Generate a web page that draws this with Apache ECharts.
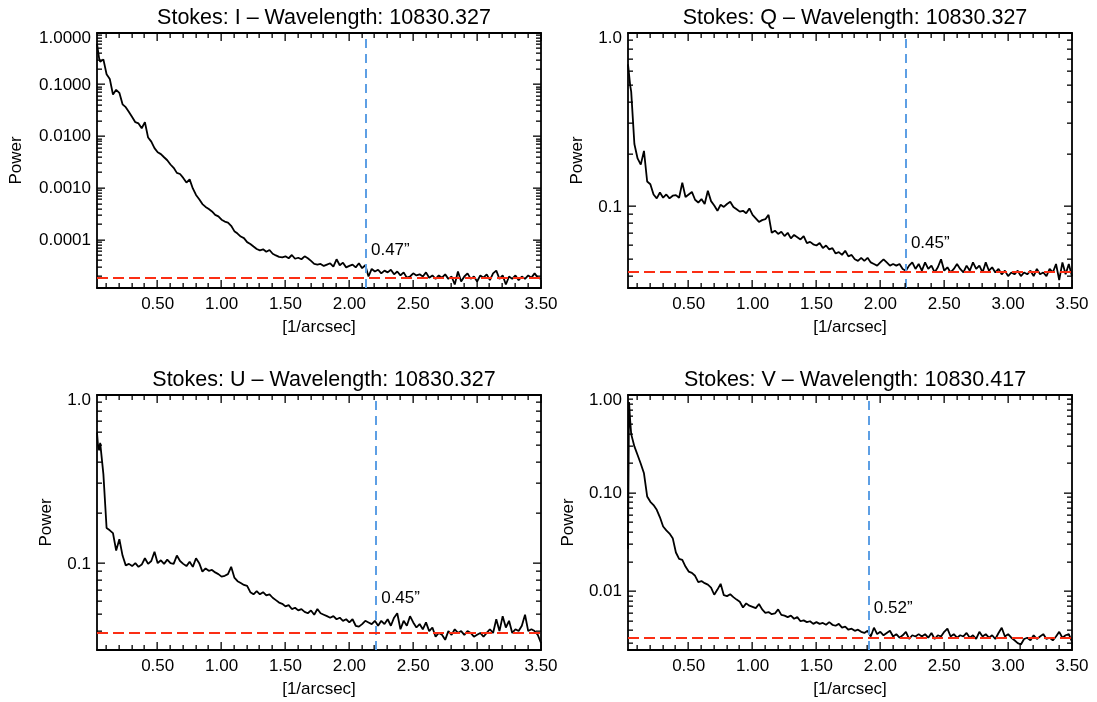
<!DOCTYPE html>
<html>
<head>
<meta charset="utf-8">
<script src="https://cdn.jsdelivr.net/npm/echarts@6/dist/echarts.min.js"></script>
<style>
  html, body { margin: 0; padding: 0; background: #fff; }
  #chart { width: 1097px; height: 702px; }
</style>
</head>
<body>
<div id="chart"></div>
<script>
// ---------- data ----------
const freq = [
  0.025,0.033,0.042,0.050,0.075,0.100,0.125,0.150,0.175,0.200,
  0.225,0.250,0.275,0.300,0.325,0.350,0.375,0.400,0.425,0.450,
  0.475,0.500,0.525,0.550,0.575,0.600,0.625,0.650,0.675,0.700,
  0.725,0.750,0.775,0.800,0.825,0.850,0.875,0.900,0.925,0.950,
  0.975,1.000,1.025,1.050,1.075,1.100,1.125,1.150,1.175,1.200,
  1.225,1.250,1.275,1.300,1.325,1.350,1.375,1.400,1.425,1.450,
  1.475,1.500,1.525,1.550,1.575,1.600,1.625,1.650,1.675,1.700,
  1.725,1.750,1.775,1.800,1.825,1.850,1.875,1.900,1.925,1.950,
  1.975,2.000,2.025,2.050,2.075,2.100,2.125,2.150,2.175,2.200,
  2.225,2.250,2.275,2.300,2.325,2.350,2.375,2.400,2.425,2.450,
  2.475,2.500,2.525,2.550,2.575,2.600,2.625,2.650,2.675,2.700,
  2.725,2.750,2.775,2.800,2.825,2.850,2.875,2.900,2.925,2.950,
  2.975,3.000,3.025,3.050,3.075,3.100,3.125,3.150,3.175,3.200,
  3.225,3.250,3.275,3.300,3.325,3.350,3.375,3.400,3.425,3.450,
  3.475,3.500
];

const powerI = [
  0.62,0.45,0.32,0.28,0.31,0.16,0.13,0.065,0.080,0.070,
  0.042,0.037,0.030,0.024,0.019,0.018,0.0145,0.019,0.0096,0.0080,
  0.0060,0.0050,0.0046,0.0040,0.0035,0.0029,0.0025,0.0020,0.0019,0.0016,
  0.0013,0.0015,0.0010,0.00075,0.00062,0.00050,0.00044,0.00040,0.00036,0.00031,
  0.00029,0.00025,0.00023,0.00022,0.00019,0.00015,0.000135,0.000118,0.00011,0.000092,
  0.000085,0.000076,0.000068,0.000064,0.000067,0.000060,0.000065,0.000055,0.000051,0.000048,
  0.000047,0.000049,0.000045,0.000052,0.000044,0.000046,0.000043,0.000049,0.000045,0.000040,
  0.000035,0.000034,0.000035,0.000032,0.000034,0.000036,0.000031,0.000043,0.000033,0.000037,
  0.000030,0.000032,0.000034,0.000030,0.000036,0.000029,0.000033,0.000020,0.000028,0.000025,
  0.000027,0.000023,0.000026,0.000024,0.000027,0.000022,0.000025,0.000021,0.000024,0.000019,
  0.000020,0.000023,0.000021,0.000022,0.000020,0.000024,0.000019,0.000021,0.000018,0.000021,
  0.000019,0.000022,0.000018,0.000020,0.000014,0.000025,0.000016,0.000020,0.000023,0.000018,
  0.000020,0.000016,0.000021,0.000019,0.000022,0.000017,0.000023,0.000026,0.000018,0.000021,
  0.000014,0.000020,0.000018,0.000021,0.000017,0.000020,0.000018,0.000021,0.000019,0.000023,
  0.000019,0.000018
];

const powerQ = [
  0.66,0.58,0.50,0.46,0.23,0.19,0.175,0.21,0.14,0.135,
  0.118,0.112,0.121,0.113,0.118,0.112,0.116,0.117,0.113,0.138,
  0.114,0.118,0.122,0.110,0.106,0.111,0.104,0.124,0.108,0.102,
  0.095,0.103,0.100,0.104,0.107,0.100,0.097,0.094,0.095,0.092,
  0.098,0.090,0.086,0.082,0.084,0.085,0.090,0.071,0.073,0.070,
  0.072,0.068,0.071,0.066,0.069,0.067,0.065,0.068,0.062,0.063,
  0.061,0.060,0.062,0.058,0.060,0.057,0.058,0.054,0.055,0.053,
  0.056,0.052,0.053,0.050,0.049,0.051,0.049,0.051,0.048,0.047,
  0.046,0.048,0.050,0.048,0.046,0.047,0.046,0.047,0.044,0.043,
  0.046,0.048,0.044,0.047,0.043,0.048,0.044,0.046,0.042,0.045,
  0.050,0.043,0.045,0.042,0.044,0.047,0.044,0.042,0.046,0.043,
  0.048,0.044,0.046,0.042,0.048,0.043,0.045,0.042,0.044,0.041,
  0.043,0.040,0.042,0.041,0.043,0.040,0.042,0.041,0.043,0.040,
  0.044,0.041,0.042,0.040,0.044,0.042,0.047,0.038,0.048,0.041,
  0.047,0.040
];

const powerU = [
  0.60,0.50,0.47,0.52,0.34,0.163,0.158,0.152,0.120,0.140,
  0.112,0.098,0.100,0.097,0.101,0.096,0.099,0.108,0.100,0.104,
  0.118,0.101,0.105,0.100,0.106,0.101,0.100,0.112,0.104,0.100,
  0.097,0.103,0.096,0.108,0.101,0.090,0.094,0.091,0.092,0.089,
  0.087,0.084,0.085,0.087,0.096,0.083,0.079,0.077,0.075,0.074,
  0.068,0.066,0.069,0.066,0.068,0.065,0.066,0.063,0.061,0.059,
  0.058,0.056,0.057,0.054,0.055,0.053,0.054,0.052,0.051,0.053,
  0.050,0.054,0.051,0.050,0.049,0.048,0.049,0.047,0.048,0.046,
  0.047,0.045,0.047,0.043,0.0425,0.044,0.046,0.045,0.044,0.046,
  0.043,0.046,0.044,0.047,0.043,0.048,0.051,0.041,0.046,0.043,
  0.049,0.045,0.042,0.044,0.041,0.045,0.040,0.042,0.037,0.039,
  0.038,0.0355,0.040,0.038,0.041,0.039,0.040,0.038,0.040,0.039,
  0.037,0.038,0.039,0.037,0.039,0.041,0.039,0.047,0.040,0.049,
  0.042,0.046,0.039,0.041,0.040,0.043,0.050,0.040,0.041,0.040,
  0.038,0.034
];

const powerV = [
  0.027,0.85,0.55,0.40,0.30,0.245,0.20,0.16,0.093,0.082,
  0.076,0.068,0.057,0.046,0.042,0.039,0.035,0.025,0.0215,0.021,
  0.018,0.016,0.0155,0.0145,0.0125,0.0128,0.0122,0.0118,0.0110,0.0093,
  0.0105,0.0120,0.0092,0.0090,0.0094,0.0088,0.0083,0.0079,0.0069,0.0076,
  0.0072,0.0070,0.0068,0.0075,0.0066,0.0061,0.0062,0.0059,0.0060,0.0066,
  0.0058,0.0057,0.0055,0.0057,0.0053,0.0055,0.0050,0.0051,0.0049,0.0050,
  0.0047,0.0049,0.0047,0.0048,0.0046,0.0049,0.0046,0.0045,0.0047,0.0043,
  0.0044,0.0041,0.0042,0.0040,0.0041,0.0039,0.0038,0.0040,0.0035,0.0043,
  0.0037,0.0039,0.0036,0.0038,0.0040,0.0035,0.0037,0.0034,0.0036,0.0039,
  0.0033,0.0036,0.0035,0.0037,0.0035,0.0037,0.0034,0.0038,0.0033,0.0036,
  0.0035,0.0039,0.0042,0.0035,0.0037,0.0034,0.0036,0.0035,0.0038,0.0034,
  0.0036,0.0033,0.0039,0.0035,0.0037,0.0034,0.0036,0.0033,0.0038,0.0043,
  0.0035,0.0037,0.0034,0.0032,0.0030,0.0029,0.0033,0.0034,0.0032,0.0036,
  0.0033,0.0035,0.0037,0.0033,0.0034,0.0032,0.0035,0.0039,0.0034,0.0036,
  0.0037,0.0031
];

const panelTitles = [
  'Stokes: I \u2013 Wavelength: 10830.327',
  'Stokes: Q \u2013 Wavelength: 10830.327',
  'Stokes: U \u2013 Wavelength: 10830.327',
  'Stokes: V \u2013 Wavelength: 10830.417'
];
const noiseLevel   = [1.9e-5, 0.0422, 0.0392, 0.0034];
const cutoffFreq   = [2.13, 2.20, 2.21, 1.91];
const cutoffLabel  = ['0.47\u201D', '0.45\u201D', '0.45\u201D', '0.52\u201D'];
const cutoffLabelY = [6.4e-5, 0.0618, 0.0626, 0.00676];
const yMin = [1.2e-5, 0.0342, 0.0309, 0.00255];
const yMax = [1, 1, 1, 1];
const yMajorTicks = [[0.0001, 0.001, 0.01, 0.1, 1], [0.1, 1], [0.1, 1], [0.01, 0.1, 1]];
const yLabelDigits = [4, 1, 1, 2];
const xMajorTicks = [0.5, 1.0, 1.5, 2.0, 2.5, 3.0, 3.5];
const xMin = 0.025, xMax = 3.5;

// ---------- layout / style ----------
const FONT = '"Liberation Sans", Arial, Helvetica, sans-serif';
const BLUE = '#5d9fe4';
const RED = '#fb2e14';
const gridsPx = [
  { left: 97,  top: 33,  width: 444, height: 255 },
  { left: 628, top: 33,  width: 444, height: 255 },
  { left: 97,  top: 395, width: 444, height: 255 },
  { left: 628, top: 395, width: 444, height: 255 }
];
const powerNameGap = [72, 42, 42, 51];
const series = [powerI, powerQ, powerU, powerV];
const MAJOR_LEN = 8, MINOR_LEN = 5;

const xMinorTicks = [];
for (let k = 1; k <= 34; k++) { if (k % 5 !== 0) xMinorTicks.push(k / 10); }
function logMinor(lo, hi) {
  const out = [];
  for (let e = -6; e <= 0; e++) {
    for (let m = 2; m <= 9; m++) {
      const v = parseFloat((m * Math.pow(10, e)).toPrecision(3));
      if (v >= lo && v <= hi) out.push(v);
    }
  }
  return out;
}

const grid = [], xAxis = [], yAxis = [], chartSeries = [], title = [];
const line = { color: '#000', width: 1.8 };
const txt = { fontSize: 17, color: '#000', fontFamily: FONT };

for (let p = 0; p < 4; p++) {
  const g = gridsPx[p];
  grid.push(Object.assign({ containLabel: false }, g));
  title.push({
    text: panelTitles[p], left: g.left + g.width / 2, top: g.top - 31, textAlign: 'center',
    textStyle: { fontSize: 21.5, fontWeight: 'normal', color: '#000', fontFamily: FONT }
  });
  const digits = yLabelDigits[p];
  const topLabel = (1).toFixed(digits);

  const xBase = { type: 'value', gridIndex: p, min: xMin, max: xMax, splitLine: { show: false },
    axisTick: { show: false } };
  xAxis.push(Object.assign({}, xBase, {
    position: 'bottom',
    axisLine: { show: true, onZero: false, lineStyle: line },
    axisLabel: Object.assign({ show: true, customValues: xMajorTicks, margin: 8,
      formatter: v => Number(v).toFixed(2) }, txt),
    name: '[1/arcsec]', nameLocation: 'middle', nameGap: 31, nameTextStyle: txt
  }));
  xAxis.push(Object.assign({}, xBase, {
    position: 'top',
    axisLine: { show: true, onZero: false, lineStyle: line },
    axisLabel: { show: false }
  }));

  const yBase = { type: 'log', logBase: 10, gridIndex: p, min: yMin[p], max: yMax[p],
    splitLine: { show: false }, axisTick: { show: false } };
  yAxis.push(Object.assign({}, yBase, {
    position: 'left',
    axisLine: { show: true, onZero: false, lineStyle: line },
    axisLabel: Object.assign({ show: true, customValues: yMajorTicks[p], margin: 6,
      formatter: v => {
        const s = Number(v).toFixed(digits);
        return s === topLabel ? '{top|' + s + '}' : s;
      },
      rich: { top: { fontSize: 17, color: '#000', fontFamily: FONT, padding: [11, 0, 0, 0] } }
    }, txt),
    name: 'Power', nameLocation: 'middle', nameGap: powerNameGap[p], nameRotate: 90, nameTextStyle: txt
  }));
  yAxis.push(Object.assign({}, yBase, {
    position: 'right',
    axisLine: { show: true, onZero: false, lineStyle: line },
    axisLabel: { show: false }
  }));

  const vals = series[p];
  chartSeries.push({
    type: 'line', xAxisIndex: 2 * p, yAxisIndex: 2 * p,
    data: freq.map((f, i) => [f, vals[i]]),
    showSymbol: false, symbol: 'none', clip: true,
    lineStyle: { color: '#000', width: 1.8 },
    z: 2,
    markLine: {
      silent: true, symbol: ['none', 'none'], label: { show: false }, precision: 10,
      data: [
        { xAxis: cutoffFreq[p], lineStyle: { color: BLUE, type: [9, 6], width: 2 } },
        { yAxis: noiseLevel[p], lineStyle: { color: RED, type: [11, 5], width: 2 } }
      ]
    }
  });
}

const chart = echarts.init(document.getElementById('chart'), null, { renderer: 'canvas' });
chart.setOption({
  backgroundColor: '#ffffff',
  animation: false,
  title, grid, xAxis, yAxis,
  series: chartSeries
});

// ---------- inward tick marks on all four sides + cutoff labels ----------
// positions come from the chart's own axes via convertToPixel
const graphics = [];
function bar(x, y, w, h) {
  graphics.push({ type: 'rect', silent: true, z: 100,
    shape: { x: x, y: y, width: w, height: h }, style: { fill: '#000' } });
}
for (let p = 0; p < 4; p++) {
  const finder = { xAxisIndex: 2 * p, yAxisIndex: 2 * p };
  const px = (x, y) => chart.convertToPixel(finder, [x, y]);
  const yMinor = logMinor(yMin[p], yMax[p]);
  const xt = xMajorTicks.map(v => [v, MAJOR_LEN]).concat(xMinorTicks.map(v => [v, MINOR_LEN]));
  xt.forEach(([v, len]) => {
    const b = px(v, yMin[p]), t = px(v, yMax[p]);
    if (!b || !t) return;
    const x = Math.floor(b[0]) - 0.5;
    bar(x, b[1] - len, 1.3, len);
    bar(x, t[1], 1.3, len);
  });
  const yt = yMajorTicks[p].map(v => [v, MAJOR_LEN]).concat(yMinor.map(v => [v, MINOR_LEN]));
  yt.forEach(([v, len]) => {
    const l = px(xMin, v), r = px(xMax, v);
    if (!l || !r) return;
    const y = Math.floor(l[1]) - 0.5;
    bar(l[0], y, len, 1.3);
    bar(r[0] - len, y, len, 1.3);
  });
  const lp = px(cutoffFreq[p], cutoffLabelY[p]);
  if (lp) {
    graphics.push({ type: 'text', silent: true, z: 100, x: lp[0] + 5, y: lp[1],
      style: { text: cutoffLabel[p], fill: '#000', font: '17px ' + FONT,
        textAlign: 'left', textVerticalAlign: 'middle' } });
  }
}
chart.setOption({ graphic: graphics });
</script>
</body>
</html>
